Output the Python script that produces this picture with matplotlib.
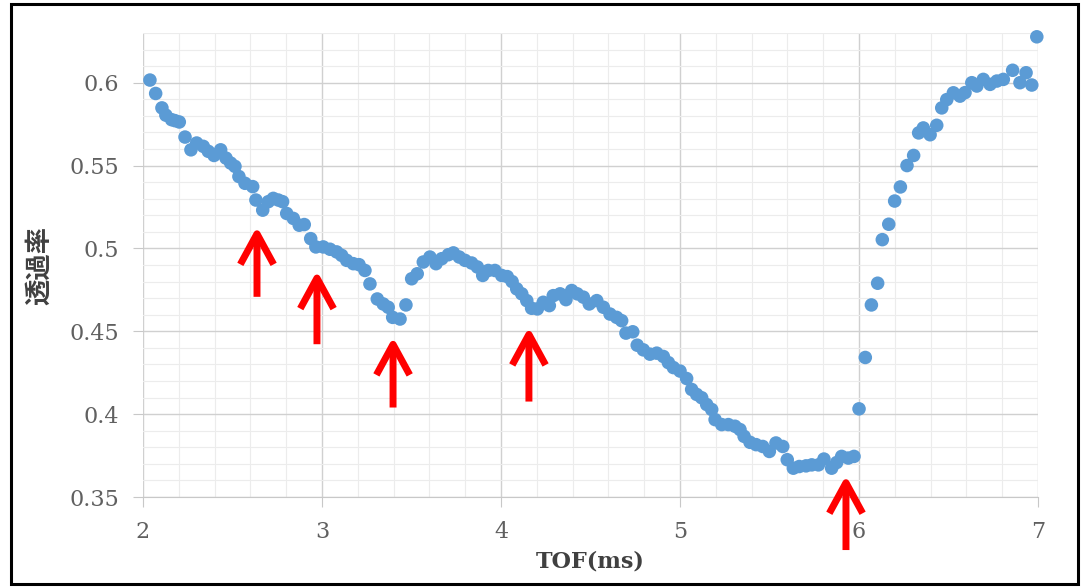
import matplotlib
matplotlib.use("Agg")
import matplotlib.pyplot as plt
from matplotlib.patches import Rectangle
from matplotlib.ticker import MultipleLocator

plt.rcParams['font.family'] = ['DejaVu Serif']

# TOF (ms) and transmission values
tof = [2.039, 2.071, 2.106, 2.128, 2.160, 2.179, 2.203, 2.235, 2.268, 2.300,
       2.337, 2.365, 2.397, 2.434, 2.464, 2.490, 2.514, 2.536, 2.570, 2.613,
       2.631, 2.669, 2.700, 2.728, 2.756, 2.780, 2.803, 2.840, 2.873, 2.901,
       2.937, 2.966, 3.007, 3.045, 3.082, 3.110, 3.138, 3.175, 3.207, 3.240,
       3.268, 3.309, 3.342, 3.370, 3.395, 3.436, 3.469, 3.501, 3.532, 3.566,
       3.603, 3.637, 3.669, 3.706, 3.734, 3.767, 3.799, 3.836, 3.868, 3.898,
       3.929, 3.966, 4.004, 4.035, 4.062, 4.088, 4.116, 4.144, 4.171, 4.203,
       4.236, 4.270, 4.292, 4.330, 4.363, 4.395, 4.426, 4.460, 4.493, 4.535,
       4.572, 4.609, 4.646, 4.674, 4.698, 4.736, 4.761, 4.795, 4.832, 4.870,
       4.907, 4.935, 4.963, 5.000, 5.037, 5.065, 5.093, 5.121, 5.149, 5.177,
       5.196, 5.233, 5.270, 5.307, 5.335, 5.358, 5.391, 5.425, 5.462, 5.499,
       5.536, 5.574, 5.599, 5.633, 5.666, 5.704, 5.736, 5.773, 5.804, 5.847,
       5.875, 5.903, 5.940, 5.972, 6.000, 6.035, 6.069, 6.104, 6.130, 6.166,
       6.199, 6.231, 6.268, 6.305, 6.333, 6.359, 6.397, 6.434, 6.462, 6.490,
       6.527, 6.564, 6.592, 6.630, 6.658, 6.694, 6.732, 6.770, 6.806, 6.858,
       6.899, 6.933, 6.965, 6.993]
trans = [0.6016, 0.5935, 0.5848, 0.5804, 0.5777, 0.5771, 0.5763, 0.5672, 0.5595, 0.5636,
         0.5616, 0.5586, 0.5561, 0.5595, 0.5545, 0.5515, 0.5495, 0.5434, 0.5393, 0.5373,
         0.5292, 0.5231, 0.5282, 0.5302, 0.5292, 0.5282, 0.5211, 0.5181, 0.5140, 0.5144,
         0.5059, 0.5009, 0.5009, 0.4995, 0.4979, 0.4958, 0.4928, 0.4908, 0.4902, 0.4867,
         0.4786, 0.4695, 0.4665, 0.4645, 0.4584, 0.4574, 0.4659, 0.4817, 0.4847, 0.4918,
         0.4948, 0.4908, 0.4938, 0.4962, 0.4973, 0.4948, 0.4928, 0.4912, 0.4888, 0.4837,
         0.4867, 0.4867, 0.4837, 0.4830, 0.4800, 0.4756, 0.4726, 0.4685, 0.4639, 0.4635,
         0.4675, 0.4655, 0.4715, 0.4726, 0.4691, 0.4746, 0.4726, 0.4706, 0.4665, 0.4685,
         0.4645, 0.4604, 0.4584, 0.4564, 0.4489, 0.4497, 0.4416, 0.4388, 0.4362, 0.4368,
         0.4348, 0.4311, 0.4281, 0.4260, 0.4215, 0.4149, 0.4119, 0.4099, 0.4058, 0.4028,
         0.3967, 0.3937, 0.3937, 0.3927, 0.3907, 0.3866, 0.3830, 0.3816, 0.3805, 0.3775,
         0.3826, 0.3805, 0.3725, 0.3674, 0.3684, 0.3688, 0.3694, 0.3694, 0.3729, 0.3674,
         0.3708, 0.3745, 0.3735, 0.3745, 0.4032, 0.4342, 0.4659, 0.4790, 0.5053, 0.5146,
         0.5286, 0.5371, 0.5500, 0.5561, 0.5697, 0.5727, 0.5686, 0.5743, 0.5848, 0.5898,
         0.5939, 0.5919, 0.5940, 0.6000, 0.5980, 0.6020, 0.5990, 0.6010, 0.6020, 0.6075,
         0.6000, 0.6060, 0.5986, 0.6277]

# red arrows marking the dips (x, tip, tail)
arrow_x = [2.637, 2.972, 3.397, 4.156, 5.927]
arrow_tip = [0.5132, 0.4865, 0.4465, 0.4525, 0.3630]
arrow_tail = [0.4708, 0.4422, 0.4040, 0.4076, 0.3180]

fig = plt.figure(figsize=(10.83, 5.87), dpi=100)
ax = fig.add_axes([0.132, 0.1533, 0.8265, 0.7905])

ax.scatter(tof, trans, s=95, color='#5B9BD5', edgecolors='none', zorder=3, clip_on=False)

for x, tip, tail in zip(arrow_x, arrow_tip, arrow_tail):
    ax.annotate('', xy=(x, tip), xytext=(x, tail),
                arrowprops=dict(arrowstyle='->,head_length=1.1,head_width=0.6', color='red',
                                lw=5, shrinkA=0, shrinkB=0, mutation_scale=20,
                                joinstyle='round', capstyle='butt'),
                annotation_clip=False, zorder=4)

ax.set_xlim(2, 7)
ax.set_ylim(0.35, 0.63)
ax.xaxis.set_major_locator(MultipleLocator(1))
ax.xaxis.set_minor_locator(MultipleLocator(0.2))
ax.yaxis.set_major_locator(MultipleLocator(0.05))
ax.yaxis.set_minor_locator(MultipleLocator(0.01))
ax.set_yticks([0.35, 0.4, 0.45, 0.5, 0.55, 0.6])
ax.set_yticklabels(['0.35', '0.4', '0.45', '0.5', '0.55', '0.6'])

ax.grid(True, which='major', color='#d0d0d0', lw=1.0)
ax.grid(True, which='minor', color='#ececec', lw=0.8)
ax.set_axisbelow(True)
for s in ax.spines.values():
    s.set_visible(False)
ax.spines['bottom'].set_visible(True)
ax.spines['bottom'].set_color('#c8c8c8')

ax.tick_params(which='major', length=7, color='#c8c8c8', labelsize=16, labelcolor='#606060', pad=10)
ax.tick_params(which='minor', length=0)

ax.set_xlabel('TOF(ms)', fontsize=16, fontweight='bold', color='#404040', labelpad=6)
ax.set_ylabel('透過率', fontsize=19, fontweight='bold', color='#404040',
              family=['Noto Sans CJK JP', 'DejaVu Sans'], labelpad=12)

fig.patches.append(Rectangle((0.0105, 0.005), 0.985, 0.988, transform=fig.transFigure,
                             fill=False, edgecolor='black', lw=2.2))

fig.savefig('out.png', dpi=100)
